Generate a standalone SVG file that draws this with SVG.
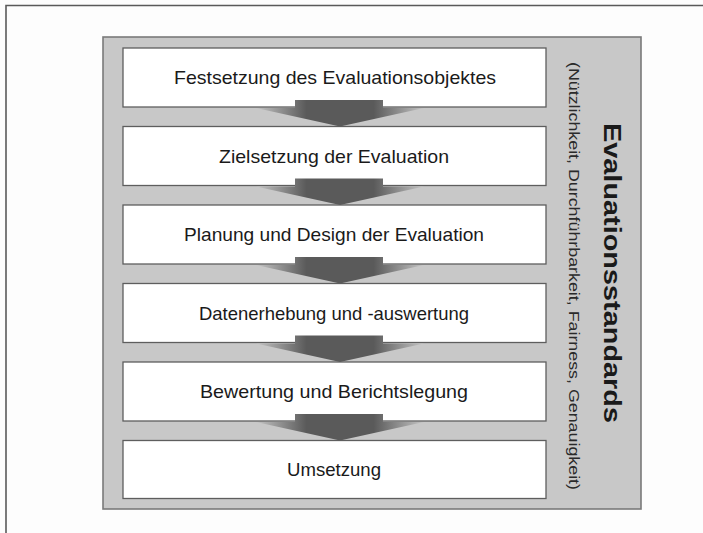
<svg xmlns="http://www.w3.org/2000/svg" width="703" height="533" viewBox="0 0 703 533">
<style>
.box{fill:#ffffff;stroke:#5e5e5e;stroke-width:1.3}
.lbl{font-family:"Liberation Sans",Arial,sans-serif;font-size:18.5px;fill:#1a1a1a;text-anchor:middle;dominant-baseline:central}
.arrow{fill:url(#ag);stroke:none}
</style>
<defs>
<linearGradient id="ag" x1="256" y1="0" x2="424" y2="0" gradientUnits="userSpaceOnUse">
<stop offset="0" stop-color="#c4c4c4"/>
<stop offset="0.3" stop-color="#5a5a5a"/>
<stop offset="0.7" stop-color="#5a5a5a"/>
<stop offset="1" stop-color="#c4c4c4"/>
</linearGradient>
</defs>
<rect x="0" y="0" width="703" height="533" fill="#fdfdfd"/>
<path d="M6,533 V5.5 H703" fill="none" stroke="#5a5a5a" stroke-width="1.6"/>
<g id="panel">
<rect x="103" y="37" width="538" height="472" fill="#c8c8c8" stroke="#7a7a7a" stroke-width="1.6"/>
<text x="612" y="273" transform="rotate(90 612 273)" font-family="'Liberation Sans',Arial,sans-serif" font-size="24" font-weight="bold" fill="#1a1a1a" text-anchor="middle" dominant-baseline="central" textLength="300" lengthAdjust="spacingAndGlyphs">Evaluationsstandards</text>
<text x="574" y="276" transform="rotate(90 574 276)" font-family="'Liberation Sans',Arial,sans-serif" font-size="15.5" fill="#2a2a2a" text-anchor="middle" dominant-baseline="central" textLength="428" lengthAdjust="spacingAndGlyphs">(Nützlichkeit, Durchführbarkeit, Fairness, Genauigkeit)</text>
</g>
<g id="step1"><rect class="box" x="123" y="48" width="423" height="59"/><text class="lbl" x="335" y="77.5" textLength="322" lengthAdjust="spacingAndGlyphs">Festsetzung des Evaluationsobjektes</text></g>
<g id="step2"><rect class="box" x="123" y="126.5" width="423" height="59"/><text class="lbl" x="334" y="156" textLength="230" lengthAdjust="spacingAndGlyphs">Zielsetzung der Evaluation</text></g>
<g id="step3"><rect class="box" x="123" y="205" width="423" height="59"/><text class="lbl" x="334" y="234.5" textLength="300" lengthAdjust="spacingAndGlyphs">Planung und Design der Evaluation</text></g>
<g id="step4"><rect class="box" x="123" y="283.5" width="423" height="59"/><text class="lbl" x="334" y="313" textLength="270" lengthAdjust="spacingAndGlyphs">Datenerhebung und -auswertung</text></g>
<g id="step5"><rect class="box" x="123" y="362" width="423" height="59"/><text class="lbl" x="334" y="391.5" textLength="268" lengthAdjust="spacingAndGlyphs">Bewertung und Berichtslegung</text></g>
<g id="step6"><rect class="box" x="123" y="440.5" width="423" height="58"/><text class="lbl" x="334" y="469.5" textLength="94" lengthAdjust="spacingAndGlyphs">Umsetzung</text></g>
<g id="connectors">
<polygon class="arrow" points="295,100 383,100 383,108 424,108 340,126.5 256,108 295,108"/>
<polygon class="arrow" transform="translate(0,78.5)" points="295,100 383,100 383,108 424,108 340,126.5 256,108 295,108"/>
<polygon class="arrow" transform="translate(0,157)" points="295,100 383,100 383,108 424,108 340,126.5 256,108 295,108"/>
<polygon class="arrow" transform="translate(0,235.5)" points="295,100 383,100 383,108 424,108 340,126.5 256,108 295,108"/>
<polygon class="arrow" transform="translate(0,314)" points="295,100 383,100 383,108 424,108 340,126.5 256,108 295,108"/>
</g>
</svg>
